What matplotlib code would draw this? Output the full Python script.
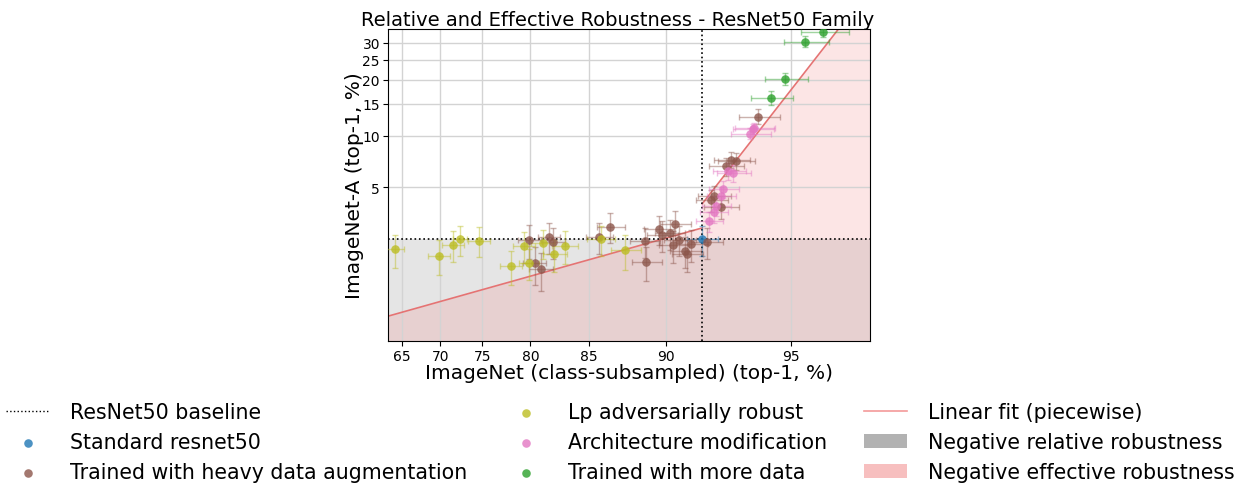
import numpy as np
import matplotlib.pyplot as plt
from matplotlib.patches import Patch
from matplotlib.lines import Line2D

# ImageNet (class-subsampled) vs ImageNet-A top-1 accuracy, in %
baseline_x = 91.8
baseline_y = 2.42

std_x = [91.8]
std_y = [2.42]
std_xerr = [0.7]
std_yerr = [0.5]

aug_x = [79.9, 80.4, 81.0, 81.7, 82.1, 85.8, 86.6, 88.8, 88.9, 89.6, 89.8, 90.2, 90.5,
         90.4, 90.7, 91.0, 91.1, 91.3, 92.0, 92.2, 92.3, 92.6, 92.8, 93.0, 93.2, 94.0]
aug_y = [2.39, 1.72, 1.58, 2.50, 2.34, 2.51, 2.88, 2.35, 1.75, 2.79, 2.57, 2.64, 3.01,
         2.22, 2.40, 2.06, 1.96, 2.25, 2.34, 4.18, 4.45, 3.81, 6.67, 7.30, 7.13, 12.8]
aug_xerr = [1.1, 1.1, 1.1, 1.0, 1.0, 1.0, 1.0, 0.9, 0.9, 0.85, 0.85, 0.8, 0.8,
            0.8, 0.8, 0.75, 0.75, 0.75, 0.7, 0.7, 0.7, 0.7, 0.7, 0.7, 0.7, 0.7]
aug_yerr = [0.55, 0.45, 0.42, 0.55, 0.5, 0.55, 0.6, 0.5, 0.42, 0.55, 0.55, 0.55, 0.6,
            0.5, 0.5, 0.45, 0.45, 0.5, 0.5, 0.65, 0.65, 0.6, 0.8, 0.8, 0.8, 1.2]

lp_x = [64.0, 69.8, 71.6, 72.4, 74.6, 78.1, 79.4, 79.9, 81.2, 82.2, 83.1, 85.9, 87.6]
lp_y = [2.10, 1.92, 2.24, 2.42, 2.37, 1.66, 2.20, 1.73, 2.29, 1.96, 2.21, 2.42, 2.07]
lp_xerr = [1.2, 1.39, 1.34, 0.84, 1.25, 1.13, 1.08, 0.96, 1.10, 1.05, 1.09, 1.02, 0.98]
lp_yerr = [0.48, 0.46, 0.48, 0.51, 0.50, 0.40, 0.47, 0.37, 0.45, 0.45, 0.50, 0.51, 0.50]

arch_x = [92.1, 92.3, 92.4, 92.6, 92.7, 92.9, 93.1, 93.7, 93.8, 93.85]
arch_y = [3.12, 3.55, 3.86, 4.45, 4.89, 6.25, 6.10, 10.3, 10.95, 11.0]
arch_xerr = [0.6, 0.6, 0.6, 0.6, 0.6, 0.65, 0.65, 0.7, 0.7, 0.7]
arch_yerr = [0.45, 0.5, 0.5, 0.55, 0.55, 0.7, 0.7, 0.7, 0.75, 0.75]

data_x = [94.4, 94.85, 95.4, 95.85]
data_y = [16.1, 20.3, 30.3, 33.4]
data_xerr = [0.66, 0.63, 0.58, 0.57]
data_yerr = [1.37, 1.41, 1.68, 1.7]

# piecewise linear fit in logit space: (slope, intercept)
fit_left = (0.68, -5.175)
fit_right = (3.106, -10.685)

x_ticks = [65, 70, 75, 80, 85, 90, 95]
y_ticks = [5, 10, 15, 20, 25, 30]
x_lim = (63.09, 96.83)
y_lim = (0.567, 34.3)


def logit(p):
    p = np.clip(np.asarray(p, dtype=float) / 100.0, 1e-9, 1 - 1e-9)
    return np.log(p / (1 - p))


def expit(z):
    return 100.0 / (1.0 + np.exp(-np.asarray(z, dtype=float)))


fig = plt.figure(figsize=(12.41, 4.85), dpi=100)
ax = fig.add_axes([0.3129, 0.2955, 0.3881, 0.6426])
ax.set_xscale('function', functions=(logit, expit))
ax.set_yscale('function', functions=(logit, expit))
ax.set_xlim(*x_lim)
ax.set_ylim(*y_lim)

# shaded regions
ax.axhspan(y_lim[0], baseline_y, color='gray', alpha=0.2, lw=0, zorder=0)
zl = np.linspace(logit(x_lim[0]), logit(baseline_x), 200)
zr = np.linspace(logit(baseline_x), logit(x_lim[1]), 200)
fx = np.concatenate([expit(zl), expit(zr)])
fy = np.concatenate([expit(fit_left[0] * zl + fit_left[1]),
                     expit(fit_right[0] * zr + fit_right[1])])
ax.fill_between(fx, y_lim[0], fy, color='lightcoral', alpha=0.2, lw=0, zorder=0)

ax.plot(expit(zl), expit(fit_left[0] * zl + fit_left[1]), color='#e57373', lw=1.2, zorder=2)
ax.plot(expit(zr), expit(fit_right[0] * zr + fit_right[1]), color='#e57373', lw=1.2, zorder=2)

ax.axhline(baseline_y, color='black', ls=':', lw=1.2, zorder=3)
ax.axvline(baseline_x, color='black', ls=':', lw=1.2, zorder=3)

groups = [
    (std_x, std_y, std_xerr, std_yerr, 'tab:blue', 'Standard resnet50'),
    (aug_x, aug_y, aug_xerr, aug_yerr, 'tab:brown', 'Trained with heavy data augmentation'),
    (lp_x, lp_y, lp_xerr, lp_yerr, 'tab:olive', 'Lp adversarially robust'),
    (arch_x, arch_y, arch_xerr, arch_yerr, 'tab:pink', 'Architecture modification'),
    (data_x, data_y, data_xerr, data_yerr, 'tab:green', 'Trained with more data'),
]
handles = {}
for gx, gy, gxe, gye, col, lab in groups:
    ax.errorbar(gx, gy, xerr=gxe, yerr=gye, fmt='none', ecolor=col, alpha=0.45,
                elinewidth=1, capsize=2, zorder=4)
    handles[lab] = ax.scatter(gx, gy, color=col, s=38, alpha=0.8, lw=0, zorder=5, label=lab)

ax.set_xticks(x_ticks)
ax.set_xticklabels([str(t) for t in x_ticks])
ax.set_yticks(y_ticks)
ax.set_yticklabels([str(t) for t in y_ticks])
ax.minorticks_off()
ax.tick_params(labelsize=10, pad=2.5)
ax.grid(True, color='#d3d3d3', lw=1)
ax.set_axisbelow(True)

ax.set_xlabel('ImageNet (class-subsampled) (top-1, %)', fontsize=14.5, labelpad=0)
ax.set_ylabel('ImageNet-A (top-1, %)', fontsize=14.5, labelpad=-1)
ax.set_title('Relative and Effective Robustness - ResNet50 Family', fontsize=14, pad=2, x=0.476)

leg_handles = [
    Line2D([], [], color='black', ls=':', lw=1),
    handles['Standard resnet50'],
    handles['Trained with heavy data augmentation'],
    handles['Lp adversarially robust'],
    handles['Architecture modification'],
    handles['Trained with more data'],
    Line2D([], [], color='lightcoral', lw=1.2, alpha=0.8),
    Patch(color='gray', alpha=0.6, lw=0),
    Patch(color='lightcoral', alpha=0.5, lw=0),
]
leg_labels = ['ResNet50 baseline', 'Standard resnet50', 'Trained with heavy data augmentation',
              'Lp adversarially robust', 'Architecture modification', 'Trained with more data',
              'Linear fit (piecewise)', 'Negative relative robustness',
              'Negative effective robustness']
fig.legend(leg_handles, leg_labels, loc='lower center', bbox_to_anchor=(0.5, -0.035),
           ncol=3, frameon=False, fontsize=14.8, handlelength=2.1, handletextpad=1.0,
           labelspacing=0.5, columnspacing=1.8)

fig.savefig('out.png', dpi=100)
